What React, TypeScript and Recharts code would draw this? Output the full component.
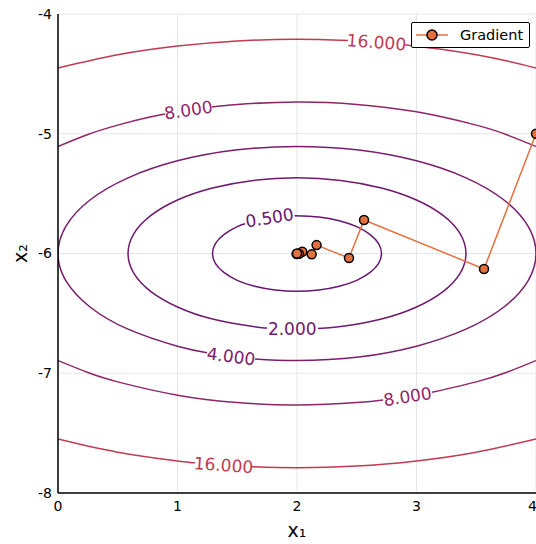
import React from 'react';
import {
  ComposedChart,
  Line,
  Scatter,
  XAxis,
  YAxis,
  CartesianGrid,
} from 'recharts';

// contour arcs, [x1, x2] pairs; gaps are left where the level labels sit
const c05: number[][] = [
  [1.98, -5.684], [2.183, -5.695], [2.354, -5.726], [2.5, -5.776], [2.612, -5.842],
  [2.683, -5.918], [2.707, -6.0], [2.683, -6.082], [2.612, -6.158], [2.5, -6.224],
  [2.354, -6.274], [2.183, -6.305], [2.0, -6.316], [1.817, -6.305], [1.646, -6.274],
  [1.5, -6.224], [1.388, -6.158], [1.317, -6.082], [1.293, -6.0], [1.317, -5.918],
  [1.388, -5.842], [1.5, -5.776], [1.565, -5.751],
];
const c2: number[][] = [
  [2.176, -6.627], [2.366, -6.61], [2.707, -6.547], [3.0, -6.447], [3.225, -6.316],
  [3.366, -6.164], [3.414, -6.0], [3.366, -5.836], [3.225, -5.684], [3.0, -5.553],
  [2.707, -5.453], [2.366, -5.39], [2.0, -5.368], [1.634, -5.39], [1.293, -5.453],
  [1.0, -5.553], [0.775, -5.684], [0.634, -5.836], [0.586, -6.0], [0.634, -6.164],
  [0.775, -6.316], [1.0, -6.447], [1.293, -6.547], [1.634, -6.61], [1.749, -6.622],
];
const c4: number[][] = [
  [1.649, -6.88], [2.0, -6.894], [2.518, -6.864], [3.0, -6.774], [3.414, -6.632],
  [3.732, -6.447], [3.932, -6.231], [4.0, -6.0], [3.932, -5.769], [3.732, -5.553],
  [3.414, -5.368], [3.0, -5.226], [2.518, -5.136], [2.0, -5.106], [1.482, -5.136],
  [1.0, -5.226], [0.586, -5.368], [0.268, -5.553], [0.068, -5.769], [0.0, -6.0],
  [0.068, -6.231], [0.268, -6.447], [0.586, -6.632], [1.0, -6.774], [1.247, -6.828],
];
const c8TopA: number[][] = [[0, -5.106], [0.25, -5.006], [0.5, -4.928], [0.75, -4.865], [0.895, -4.836]];
const c8TopB: number[][] = [
  [1.289, -4.776], [1.5, -4.755], [2.0, -4.735], [2.5, -4.755], [3.0, -4.817],
  [3.5, -4.928], [3.75, -5.006], [4.0, -5.106],
];
const c8BotA: number[][] = [
  [0, -6.894], [0.25, -6.994], [0.5, -7.072], [1.0, -7.183], [1.5, -7.245],
  [2.0, -7.265], [2.5, -7.245], [2.72, -7.223],
];
const c8BotB: number[][] = [[3.13, -7.159], [3.5, -7.072], [3.75, -6.994], [4.0, -6.894]];
const c16TopA: number[][] = [[0, -4.451], [0.5, -4.341], [1.0, -4.268], [1.5, -4.225], [2.0, -4.211], [2.427, -4.221]];
const c16TopB: number[][] = [[2.904, -4.257], [3.25, -4.301], [3.5, -4.341], [3.75, -4.391], [4.0, -4.451]];
const c16BotA: number[][] = [[0, -7.549], [0.5, -7.659], [1.0, -7.732], [1.146, -7.748]];
const c16BotB: number[][] = [[1.623, -7.781], [2.0, -7.789], [2.5, -7.775], [3.0, -7.732], [3.5, -7.659], [4.0, -7.549]];

const levelColors: Record<string, string> = {
  '0.5': '#66166e',
  '2': '#6f196e',
  '4': '#7a1d6d',
  '8': '#8f2568',
  '16': '#c03a51',
};

const contourArcs: { level: string; pts: number[][] }[] = [
  { level: '16', pts: c16TopA },
  { level: '16', pts: c16TopB },
  { level: '16', pts: c16BotA },
  { level: '16', pts: c16BotB },
  { level: '8', pts: c8TopA },
  { level: '8', pts: c8TopB },
  { level: '8', pts: c8BotA },
  { level: '8', pts: c8BotB },
  { level: '4', pts: c4 },
  { level: '2', pts: c2 },
  { level: '0.5', pts: c05 },
];

// label text, position on the curve, tilt
const labelText = ['0.500', '2.000', '4.000', '8.000', '8.000', '16.000', '16.000'];
const labelLevel = ['0.5', '2', '4', '8', '8', '16', '16'];
const labelX = [1.77, 1.96, 1.448, 1.092, 2.925, 2.665, 1.385];
const labelY = [-5.701, -6.632, -6.859, -4.802, -7.195, -4.236, -7.768];
const labelAngle = [-9, 0, 7, -8.6, -8.8, 4.3, 4];

// gradient descent iterates
const gradX = [4.0, 3.565, 2.561, 2.435, 2.164, 2.123, 2.044, 2.017, 1.997, 2.0];
const gradY = [-5.0, -6.129, -5.72, -6.038, -5.93, -6.007, -5.985, -6.003, -6.004, -6.0];

const xTicks = [0, 1, 2, 3, 4];
const yTicks = [-8, -7, -6, -5, -4];

const ORANGE = '#e5703d';
const FONT = '"DejaVu Sans", sans-serif';

const gradData = gradX.map((x, i) => ({ x, y: gradY[i] }));
const labelData = labelText.map((t, i) => ({
  x: labelX[i],
  y: labelY[i],
  text: t,
  color: levelColors[labelLevel[i]],
  angle: labelAngle[i],
}));

function ContourLabel(props: any) {
  const { cx, cy, payload } = props;
  if (cx == null || cy == null) return null;
  return (
    <text
      x={cx}
      y={cy}
      textAnchor="middle"
      dominantBaseline="central"
      fontFamily={FONT}
      fontSize={17}
      fill={payload.color}
      transform={`rotate(${payload.angle}, ${cx}, ${cy})`}
    >
      {payload.text}
    </text>
  );
}

function LegendBox() {
  return (
    <div
      style={{
        position: 'absolute',
        left: 411,
        top: 22,
        width: 117,
        height: 24,
        background: '#fff',
        border: '1px solid #000',
        borderRadius: 2,
        display: 'flex',
        alignItems: 'center',
        fontFamily: FONT,
        fontSize: 14.5,
        color: '#000',
      }}
    >
      <svg width={44} height={24} style={{ display: 'block' }}>
        <line x1={4} y1={12} x2={36} y2={12} stroke={ORANGE} strokeWidth={1.5} />
        <circle cx={20} cy={12} r={5} fill={ORANGE} stroke="#000" strokeWidth={1.5} />
      </svg>
      <span style={{ marginLeft: 4 }}>Gradient</span>
    </div>
  );
}

export default function App() {
  return (
    <div style={{ position: 'absolute', left: 0, top: 0, width: 536, height: 544, background: '#fff' }}>
      <ComposedChart
        width={536}
        height={544}
        margin={{ top: 14, right: 0, bottom: 0, left: 0 }}
      >
        <CartesianGrid stroke="#e6e6e6" strokeWidth={1} />
        <XAxis
          type="number"
          dataKey="x"
          domain={[0, 4]}
          ticks={xTicks}
          allowDataOverflow
          height={51}
          tickLine={false}
          tickMargin={2}
          axisLine={{ stroke: '#000', strokeWidth: 1.5 }}
          tick={{ fill: '#000', fontSize: 14, fontFamily: FONT }}
          label={{
            content: (p: any) => {
              const vb = p.viewBox;
              return (
                <text
                  x={vb.x + vb.width / 2}
                  y={vb.y + 44}
                  textAnchor="middle"
                  fontFamily={FONT}
                  fontSize={19}
                  fill="#000"
                >
                  x₁
                </text>
              );
            },
          }}
        />
        <YAxis
          type="number"
          dataKey="y"
          domain={[-8, -4]}
          ticks={yTicks}
          allowDataOverflow
          width={58}
          tickLine={false}
          tickMargin={0}
          axisLine={{ stroke: '#000', strokeWidth: 1.5 }}
          tick={{ fill: '#000', fontSize: 14, fontFamily: FONT }}
          label={{
            content: (p: any) => {
              const vb = p.viewBox;
              const cx = vb.x + 20;
              const cy = vb.y + vb.height / 2;
              return (
                <text
                  x={cx}
                  y={cy}
                  textAnchor="middle"
                  dominantBaseline="central"
                  fontFamily={FONT}
                  fontSize={19}
                  fill="#000"
                  transform={`rotate(-90, ${cx}, ${cy})`}
                >
                  x₂
                </text>
              );
            },
          }}
        />
        {contourArcs.map((arc, i) => (
          <Line
            key={`arc-${i}`}
            data={arc.pts.map(([x, y]) => ({ x, y }))}
            dataKey="y"
            type="natural"
            stroke={levelColors[arc.level]}
            strokeWidth={1.5}
            dot={false}
            activeDot={false}
            legendType="none"
            isAnimationActive={false}
          />
        ))}
        <Scatter
          data={labelData}
          dataKey="y"
          shape={ContourLabel}
          legendType="none"
          isAnimationActive={false}
        />
        <Line
          data={gradData}
          dataKey="y"
          name="Gradient"
          type="linear"
          stroke={ORANGE}
          strokeWidth={1.5}
          dot={{ r: 4.5, fill: ORANGE, stroke: '#000', strokeWidth: 1.5 }}
          activeDot={false}
          isAnimationActive={false}
        />
      </ComposedChart>
      <LegendBox />
    </div>
  );
}
